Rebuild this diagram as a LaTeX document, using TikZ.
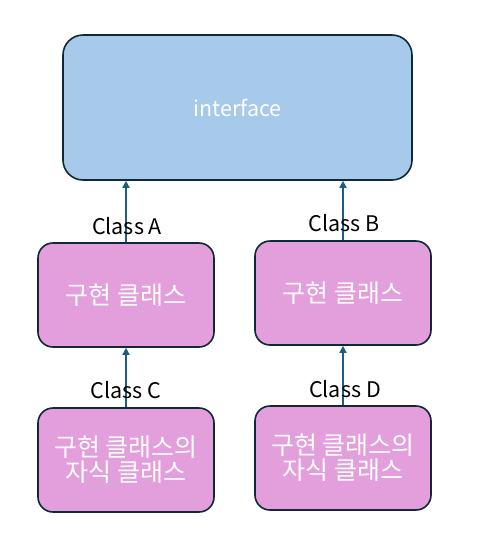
\documentclass[tikz,border=0pt]{standalone}
\usepackage{fontspec}
\setmainfont{Noto Sans CJK KR}
\usetikzlibrary{arrows.meta,positioning}
\definecolor{ifblue}{HTML}{A7C9EA}
\definecolor{clpink}{HTML}{E39EDC}
\definecolor{edgedark}{HTML}{10293A}
\definecolor{arrowblue}{HTML}{1D5E80}

\begin{document}
\begin{tikzpicture}[
  x=1pt, y=-1pt,
  font=\fontsize{21.5}{25}\selectfont,
  iface/.style={draw=edgedark, line width=1.6pt, fill=ifblue, rounded corners=20pt,
                text=white, minimum width=349pt, minimum height=145pt, inner sep=0pt},
  impl/.style={draw=edgedark, line width=1.6pt, fill=clpink, rounded corners=15pt,
               text=white, align=center, minimum width=176pt, minimum height=104pt,
               inner sep=0pt, font=\fontsize{25}{25}\selectfont},
  arrow/.style={-{Triangle[length=7pt,width=7pt]}, line width=1.6pt, arrowblue},
  tag/.style={inner sep=0pt}]
\useasboundingbox (0,0) rectangle (483,547);
\node[iface] (intf) at (237.5,107.5) {interface};
\node[impl] (clsA) at (126,295) {구현 클래스};
\node[impl] (clsB) at (343,293) {구현 클래스};
\node[impl] (clsC) at (126,460) {구현 클래스의\\자식 클래스};
\node[impl] (clsD) at (343,458) {구현 클래스의\\자식 클래스};
\draw[arrow] (clsA.north) -- (clsA.north |- intf.south);
\draw[arrow] (clsB.north) -- (clsB.north |- intf.south);
\draw[arrow] (clsC.north) -- (clsA.south);
\draw[arrow] (clsD.north) -- (clsB.south);
\node[tag] (tagA) at (127,226) {Class A};
\node[tag] (tagB) at (344,223) {Class B};
\node[tag] (tagC) at (126,390) {Class C};
\node[tag] (tagD) at (345,389) {Class D};
\end{tikzpicture}
\end{document}
